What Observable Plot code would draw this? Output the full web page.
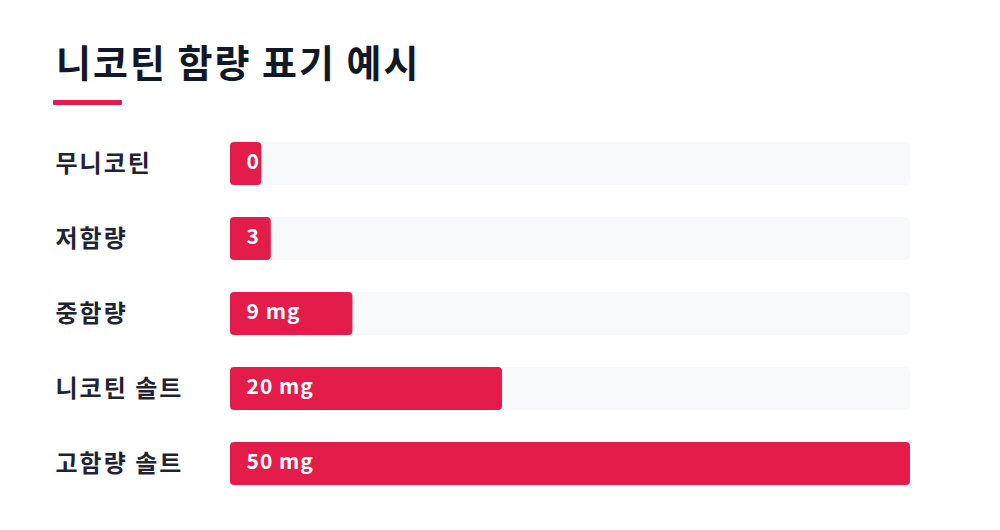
<!DOCTYPE html>
<html>
<head>
<meta charset="utf-8">
<script src="https://cdn.jsdelivr.net/npm/d3@7"></script>
<script src="https://cdn.jsdelivr.net/npm/@observablehq/plot@0.6"></script>
<style>
  html, body { margin: 0; padding: 0; background: #ffffff; }
  body { width: 1000px; height: 530px; position: relative; overflow: hidden; font-family: "Noto Sans CJK KR", "Noto Sans", sans-serif; }
  #title { position: absolute; left: 56px; top: 38px; margin: 0; font-size: 38px; font-weight: 700; color: #111827; letter-spacing: 2px; line-height: 1.2; }
  #bar { position: absolute; left: 53px; top: 100px; width: 69px; height: 5px; background: #e31c4a; border-radius: 1px; }
  #chart { position: absolute; left: 0; top: 120px; }
</style>
</head>
<body>
<h1 id="title">니코틴 함량 표기 예시</h1>
<div id="bar"></div>
<div id="chart"></div>
<script>
const categories = ["무니코틴", "저함량", "중함량", "니코틴 솔트", "고함량 솔트"];
const values = [0, 3, 9, 20, 50];
const unit = "mg";
const maxValue = 50;
const minShown = 2.3;

const rows = categories.map((c, i) => ({ category: c, value: values[i] }));

const chart = Plot.plot({
  width: 1000,
  height: 410,
  marginLeft: 230,
  marginRight: 90,
  marginTop: 20,
  marginBottom: 42,
  x: { domain: [0, maxValue], axis: null },
  y: { domain: categories, axis: null, paddingInner: 0.421, paddingOuter: 0 },
  style: { fontFamily: "'Noto Sans CJK KR', sans-serif", background: "transparent" },
  marks: [
    Plot.barX(rows, { y: "category", x1: 0, x2: maxValue, fill: "#f8f9fb", rx: 5 }),
    Plot.barX(rows, { y: "category", x1: 0, x2: d => Math.max(d.value, minShown), fill: "#e31c4a", rx: 4 }),
    Plot.text(rows, {
      y: "category", x: 0, dx: 16, dy: -2, textAnchor: "start",
      text: d => d.value < 5 ? String(d.value) : `${d.value} ${unit}`,
      fill: "white", fontSize: 21, fontWeight: 700
    }),
    Plot.text(rows, {
      y: "category", frameAnchor: "left", dx: -175, textAnchor: "start",
      text: "category", fill: "#1f2433", fontSize: 24, fontWeight: 700
    })
  ]
});
const textGroups = chart.querySelectorAll("g[aria-label='text']");
if (textGroups[0]) textGroups[0].querySelectorAll("text").forEach(t => t.setAttribute("letter-spacing", "1"));
if (textGroups[1]) textGroups[1].querySelectorAll("text").forEach(t => t.setAttribute("letter-spacing", "2"));
document.getElementById("chart").appendChild(chart);
</script>
</body>
</html>
